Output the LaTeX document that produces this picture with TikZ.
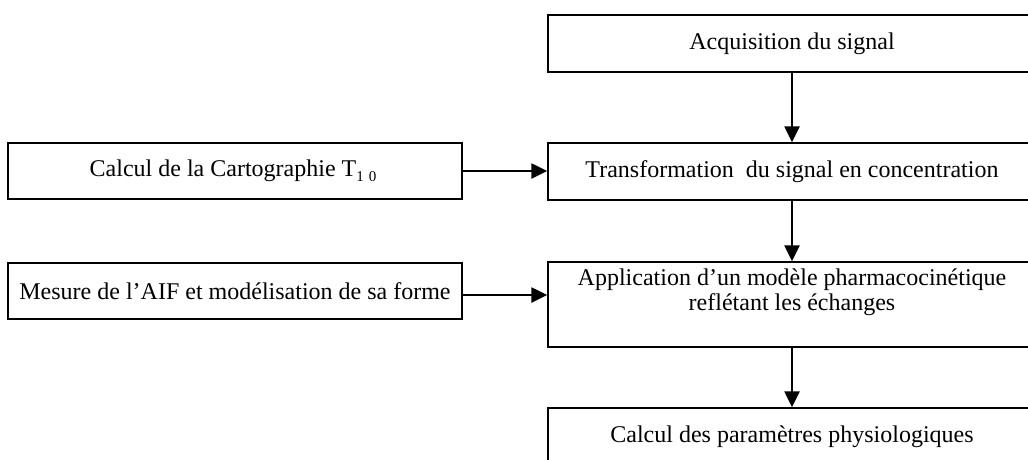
\documentclass[tikz,border=0pt]{standalone}
\usepackage{fontspec}
\setmainfont{Liberation Serif}
\usetikzlibrary{arrows.meta}
\begin{document}
\begin{tikzpicture}[x=1pt,y=-1pt,
  txt/.style={inner sep=0pt,align=center,font=\fontsize{24}{25.5}\selectfont},
  box/.style={txt,draw=black,line width=1.4pt},
  rbox/.style={box,minimum width=488pt},
  lbox/.style={box,minimum width=454pt,minimum height=56pt},
  arr/.style={line width=2.4pt,-{Triangle[length=16pt,width=15pt]}}]
\useasboundingbox (0,0) rectangle (1028,459);
\clip (0,0) rectangle (1028,459);
\fill[white] (0,0) rectangle (1028,459);
\node[rbox,minimum height=57pt] (acq) at (792,43.5) {Acquisition du signal};
\node[rbox,minimum height=57pt] (trans) at (792,171.5) {Transformation\ \ du signal en concentration};
\node[rbox,minimum height=85pt] (app) at (792,304.5) {};
\node[txt] (apptext) at (792,292) {Application d’un modèle pharmacocinétique\\reflétant les échanges};
\node[rbox,minimum height=57pt] (calc) at (792,436.5) {Calcul des paramètres physiologiques};
\node[lbox] (cart) at (235,171) {Calcul de la Cartographie T\raisebox{-5pt}{\fontsize{15}{15}\selectfont 1\hspace{5pt}0}\hspace{4pt}};
\node[lbox] (aif) at (235,291) {Mesure de l’AIF et modélisation de sa forme};
\draw[arr] (acq.south) -- (trans.north);
\draw[arr] (trans.south) -- (app.north);
\draw[arr] (app.south) -- (calc.north);
\draw[arr] (cart.east) -- (cart.east -| trans.west);
\draw[arr] ([yshift=-4pt]aif.east) -- ([yshift=-4pt]aif.east -| app.west);
\end{tikzpicture}
\end{document}
